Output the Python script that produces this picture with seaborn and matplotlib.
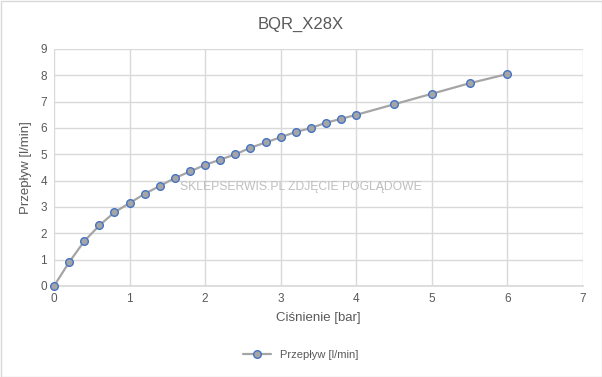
import matplotlib
matplotlib.use("Agg")
import matplotlib.pyplot as plt
import seaborn as sns
import pandas as pd
from matplotlib.lines import Line2D
from matplotlib.patches import Rectangle

pressure = [0, 0.2, 0.4, 0.6, 0.8, 1.0, 1.2, 1.4, 1.6, 1.8, 2.0, 2.2, 2.4, 2.6, 2.8,
            3.0, 3.2, 3.4, 3.6, 3.8, 4.0, 4.5, 5.0, 5.5, 6.0]
flow = [0, 0.9, 1.7, 2.3, 2.8, 3.15, 3.5, 3.8, 4.1, 4.35, 4.6, 4.8, 5.0, 5.25, 5.45,
        5.65, 5.85, 6.0, 6.2, 6.35, 6.5, 6.9, 7.3, 7.7, 8.05]
x_ticks = [0, 1, 2, 3, 4, 5, 6, 7]
y_ticks = [0, 1, 2, 3, 4, 5, 6, 7, 8, 9]

title = "BQR_X28X"
x_label = "Ciśnienie [bar]"
y_label = "Przepływ [l/min]"
series_name = "Przepływ [l/min]"
watermark = "SKLEPSERWIS.PL ZDJĘCIE POGLĄDOWE"

sns.set_theme(style="whitegrid")
plt.rcParams['font.family'] = ['Liberation Sans', 'DejaVu Sans']

df = pd.DataFrame({"p": pressure, "q": flow})

fig = plt.figure(figsize=(6.02, 3.77), dpi=100)
ax = fig.add_axes([54/602, 1-286/377, (583-54)/602, (286-49)/377])

line_col = "#A5A5A5"
edge_col = "#4472C4"
text_col = "#595959"

sns.lineplot(data=df, x="p", y="q", ax=ax, color=line_col, linewidth=1.6,
             marker="o", markersize=5.5, markerfacecolor="#A5A5A5",
             markeredgecolor=edge_col, markeredgewidth=1.0, zorder=3, clip_on=False)

ax.set_xlim(0, 7)
ax.set_ylim(0, 9)
ax.set_xticks(x_ticks)
ax.set_yticks(y_ticks)
ax.grid(True, color="#D9D9D9", linewidth=1.0)
for s in ["top", "right", "left"]:
    ax.spines[s].set_visible(False)
ax.spines["bottom"].set_visible(True)
ax.spines["bottom"].set_color("#D9D9D9")
ax.tick_params(axis="both", colors=text_col, labelsize=8.5, length=0, pad=5)
for lbl in ax.get_xticklabels() + ax.get_yticklabels():
    lbl.set_color(text_col)

ax.set_xlabel(x_label, fontsize=9.5, color=text_col, labelpad=5)
ax.set_ylabel(y_label, fontsize=9.5, color=text_col, labelpad=6)

fig.text(0.5, 1-24/377, title, ha="center", va="center", fontsize=12, color=text_col)
fig.text(301/602, 1-187/377, watermark, ha="center", va="center", fontsize=8.7, color="#BFBFBF")

handle = Line2D([], [], color=line_col, linewidth=1.6, marker="o", markersize=5.5,
                markerfacecolor="#A5A5A5", markeredgecolor=edge_col, markeredgewidth=1.0)
fig.legend([handle], [series_name], loc="center", bbox_to_anchor=(0.5, 1-355/377),
           frameon=False, fontsize=8, labelcolor=text_col, handlelength=2.5)

fig.patches.append(Rectangle((0.5/602, 0.5/377), 1-1/602, 1-1/377, transform=fig.transFigure,
                             fill=False, edgecolor="#D9D9D9", linewidth=1.0))

fig.savefig("out.png", dpi=100)
